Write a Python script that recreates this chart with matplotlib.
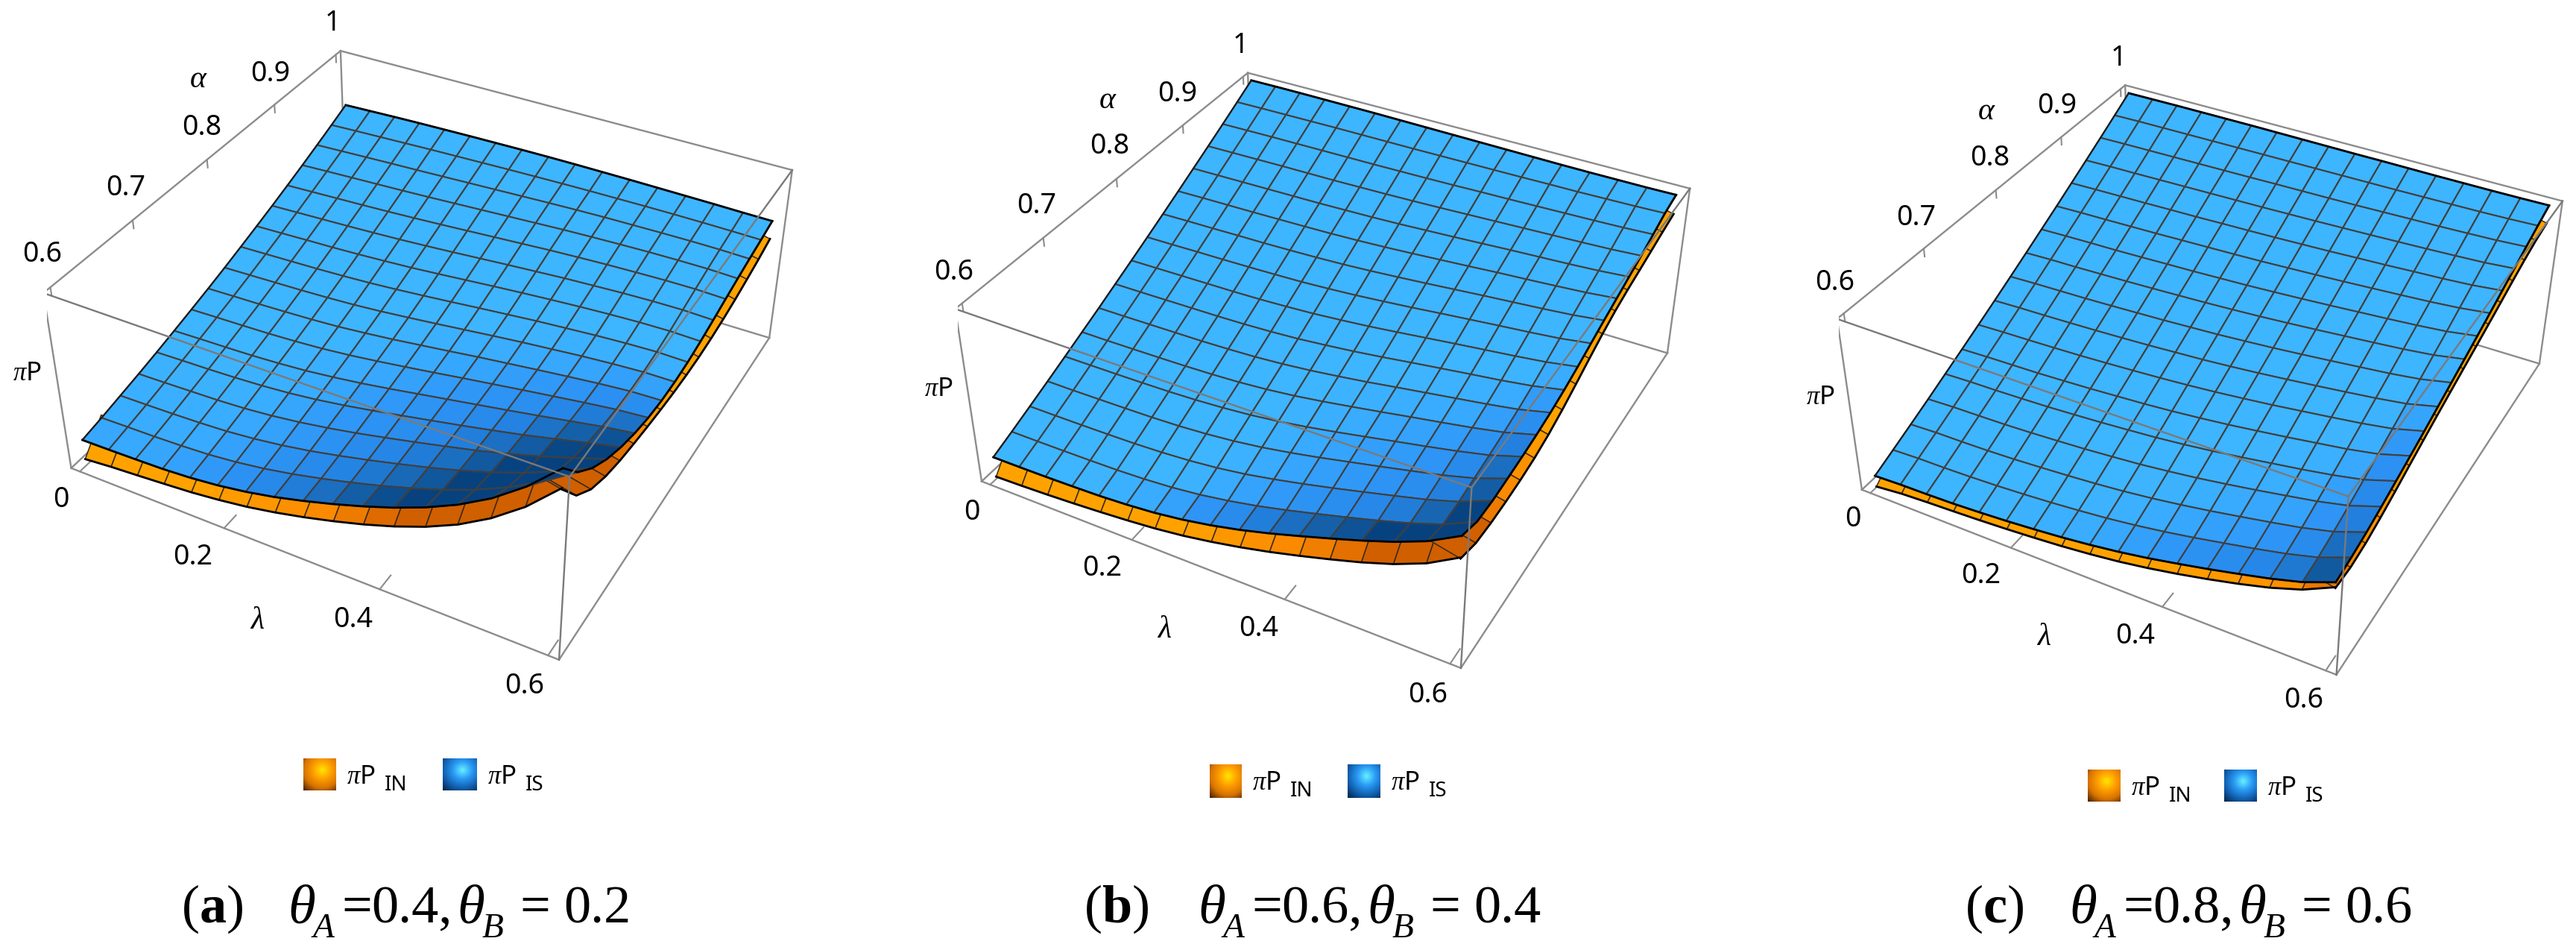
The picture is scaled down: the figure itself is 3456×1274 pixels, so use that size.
import numpy as np
import matplotlib
matplotlib.use('Agg')
import matplotlib.pyplot as plt
from matplotlib.colors import LinearSegmentedColormap

W, H = 3456, 1274

# Mesh positions and axis ranges
lam = [0, 0.0375, 0.075, 0.1125, 0.15, 0.1875, 0.225, 0.2625, 0.3, 0.3375, 0.375, 0.4125, 0.45, 0.4875, 0.525, 0.5625, 0.6]
alp = [0.6, 0.625, 0.65, 0.675, 0.7, 0.725, 0.75, 0.775, 0.8, 0.825, 0.85, 0.875, 0.9, 0.925, 0.95, 0.975, 1.0]
LAM = (-0.0125, 0.6125)
ALP = (0.592, 1.008)
lam_ticks = [0, 0.2, 0.4, 0.6]
alp_ticks = [0.6, 0.7, 0.8, 0.9, 1.0]

# Heights of the blue surface, in thousandths of the box height (rows: alpha, columns: lambda)
pi_is_a = [
    [155, 158, 162, 167, 178, 196, 222, 256, 298, 345, 397, 455, 522, 602, 701, 827, 985],
    [178, 182, 185, 191, 200, 217, 241, 272, 309, 350, 395, 445, 500, 564, 642, 736, 849],
    [204, 207, 211, 217, 226, 242, 264, 292, 326, 363, 403, 445, 491, 544, 604, 675, 755],
    [230, 234, 239, 244, 253, 268, 289, 315, 345, 379, 414, 451, 489, 532, 579, 633, 688],
    [258, 263, 267, 273, 282, 295, 314, 338, 366, 396, 427, 458, 491, 525, 563, 602, 639],
    [288, 293, 297, 302, 311, 323, 341, 362, 387, 414, 441, 468, 495, 523, 552, 581, 604],
    [319, 324, 328, 333, 341, 352, 368, 388, 410, 433, 457, 480, 503, 525, 547, 567, 580],
    [351, 356, 360, 366, 373, 383, 398, 415, 435, 455, 476, 495, 514, 532, 549, 563, 568],
    [385, 390, 395, 400, 407, 416, 429, 445, 462, 480, 498, 515, 530, 545, 557, 566, 567],
    [421, 426, 431, 436, 443, 452, 464, 478, 493, 509, 524, 539, 551, 563, 572, 578, 575],
    [458, 463, 469, 474, 481, 490, 500, 513, 527, 541, 554, 566, 577, 586, 593, 596, 592],
    [496, 502, 508, 514, 521, 529, 539, 550, 562, 574, 585, 596, 604, 612, 617, 619, 614],
    [536, 542, 548, 554, 561, 569, 578, 588, 598, 608, 618, 626, 633, 638, 642, 643, 638],
    [577, 584, 590, 596, 602, 609, 617, 625, 633, 641, 649, 655, 660, 664, 666, 666, 661],
    [620, 626, 632, 638, 643, 649, 655, 661, 667, 673, 678, 682, 684, 686, 687, 686, 682],
    [664, 670, 675, 680, 685, 689, 693, 697, 700, 703, 705, 706, 707, 707, 706, 704, 701],
    [710, 715, 720, 724, 727, 730, 732, 734, 735, 735, 734, 733, 731, 729, 727, 724, 722],
]
pi_is_b = [
    [133, 134, 136, 140, 145, 155, 170, 193, 224, 262, 307, 357, 409, 463, 522, 592, 687],
    [179, 179, 180, 182, 185, 192, 204, 223, 250, 283, 322, 365, 409, 455, 505, 563, 644],
    [227, 227, 228, 230, 233, 240, 251, 268, 292, 323, 358, 396, 436, 477, 519, 570, 639],
    [276, 276, 278, 280, 283, 289, 300, 316, 338, 366, 398, 433, 468, 504, 541, 585, 645],
    [326, 327, 328, 330, 333, 339, 349, 363, 383, 408, 437, 468, 500, 531, 564, 601, 653],
    [377, 377, 379, 381, 384, 389, 397, 410, 428, 451, 477, 504, 532, 559, 587, 619, 664],
    [428, 429, 431, 433, 435, 440, 447, 459, 475, 495, 517, 542, 566, 590, 614, 641, 680],
    [481, 482, 484, 486, 488, 492, 499, 509, 524, 541, 561, 583, 604, 625, 645, 669, 702],
    [534, 536, 538, 540, 542, 546, 553, 562, 575, 590, 608, 627, 646, 664, 682, 702, 730],
    [588, 590, 593, 595, 598, 602, 607, 616, 627, 641, 656, 673, 689, 705, 720, 737, 762],
    [643, 646, 648, 651, 653, 657, 662, 669, 679, 691, 704, 718, 732, 745, 758, 773, 794],
    [699, 702, 704, 706, 709, 712, 716, 722, 730, 740, 751, 762, 774, 784, 795, 807, 824],
    [756, 758, 760, 762, 764, 766, 770, 774, 780, 788, 796, 805, 814, 822, 830, 840, 854],
    [813, 815, 817, 819, 820, 821, 824, 827, 831, 836, 842, 848, 854, 860, 866, 873, 884],
    [871, 873, 875, 876, 877, 878, 879, 881, 883, 886, 890, 893, 897, 901, 905, 910, 918],
    [930, 932, 933, 934, 935, 935, 935, 935, 936, 937, 938, 939, 941, 942, 945, 948, 953],
    [990, 991, 991, 990, 989, 988, 986, 984, 982, 980, 978, 976, 974, 973, 973, 973, 975],
]
pi_is_c = [
    [71, 78, 81, 86, 95, 106, 120, 136, 156, 180, 209, 243, 279, 318, 359, 407, 475],
    [121, 128, 130, 135, 142, 152, 164, 179, 196, 218, 244, 274, 307, 341, 378, 423, 490],
    [172, 179, 181, 185, 192, 202, 213, 226, 242, 262, 286, 313, 343, 374, 407, 449, 511],
    [224, 231, 234, 238, 245, 254, 264, 277, 291, 310, 331, 356, 383, 412, 442, 480, 538],
    [278, 284, 287, 292, 298, 307, 317, 329, 342, 359, 379, 402, 427, 452, 480, 514, 568],
    [332, 338, 342, 346, 353, 361, 371, 381, 394, 410, 428, 449, 471, 495, 519, 550, 599],
    [387, 393, 397, 402, 408, 416, 425, 435, 447, 461, 478, 496, 517, 538, 560, 587, 631],
    [443, 449, 453, 458, 464, 471, 479, 489, 499, 512, 527, 544, 562, 581, 601, 625, 665],
    [500, 506, 510, 514, 520, 527, 534, 543, 552, 564, 577, 592, 608, 625, 642, 664, 699],
    [558, 564, 567, 572, 577, 583, 590, 597, 606, 616, 628, 641, 655, 669, 684, 703, 733],
    [617, 622, 626, 629, 634, 640, 645, 652, 659, 668, 678, 689, 701, 713, 726, 742, 768],
    [676, 681, 684, 688, 692, 697, 702, 707, 713, 721, 729, 738, 748, 758, 769, 783, 804],
    [737, 741, 744, 747, 751, 754, 759, 763, 768, 774, 780, 788, 795, 804, 812, 823, 841],
    [798, 802, 804, 807, 810, 813, 816, 819, 823, 827, 832, 837, 843, 849, 856, 864, 878],
    [860, 863, 865, 867, 869, 871, 873, 876, 878, 880, 883, 887, 891, 895, 900, 906, 916],
    [923, 926, 927, 928, 929, 930, 931, 932, 933, 934, 935, 936, 938, 940, 942, 946, 952],
    [987, 988, 989, 989, 989, 989, 988, 987, 986, 985, 985, 984, 983, 983, 983, 984, 986],
]

# Orange surface: only its front edge (alpha = 0.6) and right edge (lambda = 0.6) show
pi_in_front_a = [39, 54, 65, 77, 90, 109, 133, 165, 203, 246, 294, 349, 414, 493, 594, 721, 883]
pi_in_right_a = [877, 726, 641, 594, 565, 546, 530, 517, 507, 502, 502, 509, 522, 540, 563, 588, 618]
pi_in_front_b = [13, 18, 25, 34, 45, 58, 74, 96, 125, 159, 198, 242, 289, 339, 397, 469, 569]
pi_in_right_b = [563, 525, 516, 516, 521, 533, 556, 590, 632, 676, 718, 753, 779, 800, 822, 845, 865]
pi_in_front_c = [4, 21, 30, 37, 45, 55, 67, 81, 99, 121, 149, 182, 219, 260, 306, 364, 447]
pi_in_right_c = [442, 434, 448, 475, 508, 544, 579, 613, 645, 677, 708, 740, 773, 807, 839, 866, 883]

# Per panel layout: camera (elev, azim, roll, focal, box x, box z, centre x, centre y, size in px)
panels = [
    dict(is_=pi_is_a, front=pi_in_front_a, right=pi_in_right_a,
         cam=[36.454, -61.522, 0.021, 0.442, 1.003, 0.401, 571.381, 439.192, 1017.543],
         ticks=[('1', 446, 30.6), ('0.9', 363, 98.9), ('0.8', 271, 171), ('0.7', 169, 252), ('0.6', 57, 341),
                ('0', 82, 670), ('0.2', 259, 747.4), ('0.4', 474, 831), ('0.6', 704, 920)],
         alpha_at=(266, 105), lambda_at=(345, 831), pi_at=(36, 501),
         legend=(407, 450, 594, 640, 1017, 1060),
         cap=('a', 243, 386, '0.4', '0.2')),
    dict(is_=pi_is_b, front=pi_in_front_b, right=pi_in_right_b,
         cam=[36.019, -61.745, -0.155, 0.442, 0.995, 0.397, 1785.431, 459.825, 1000.141],
         ticks=[('1', 1664, 60.6), ('0.9', 1580, 125.6), ('0.8', 1489, 196.4), ('0.7', 1391, 276), ('0.6', 1280, 365),
                ('0', 1304, 687), ('0.2', 1479, 762), ('0.4', 1689, 843), ('0.6', 1916, 932)],
         alpha_at=(1486, 132.7), lambda_at=(1562, 843), pi_at=(1259, 522),
         legend=(1623, 1665, 1808, 1852, 1025, 1070),
         cap=('b', 1454, 1607, '0.6', '0.4')),
    dict(is_=pi_is_c, front=pi_in_front_c, right=pi_in_right_c,
         cam=[36.066, -62.158, -0.526, 0.446, 0.993, 0.397, 2961.82, 473.558, 989.207],
         ticks=[('1', 2842, 78), ('0.9', 2760, 141.6), ('0.8', 2670, 212), ('0.7', 2571, 292), ('0.6', 2462, 379.5),
                ('0', 2486, 696), ('0.2', 2658, 772), ('0.4', 2865, 853), ('0.6', 3091, 939)],
         alpha_at=(2665, 148), lambda_at=(2742, 853), pi_at=(2442, 532.5),
         legend=(2801, 2844, 2984, 3028, 1032, 1075),
         cap=('c', 2636, 2776, '0.8', '0.6')),
]

plt.rcParams['mathtext.fontset'] = 'custom'
plt.rcParams['mathtext.rm'] = 'Noto Sans'
plt.rcParams['mathtext.it'] = 'Liberation Serif:italic'
plt.rcParams['mathtext.sf'] = 'Liberation Serif'
plt.rcParams['mathtext.bf'] = 'Liberation Serif:bold'

blue_lut = LinearSegmentedColormap.from_list('b', [(0, '#07427f'), (0.25, '#1560a8'), (0.5, '#2585e6'),
                                                   (0.7, '#2f97f7'), (0.85, '#38aaff'), (1, '#3eb5ff')])
orange_lut = LinearSegmentedColormap.from_list('o', [(0, '#a84600'), (0.3, '#d86400'), (0.6, '#fb8a00'), (1, '#ffa200')])
sw_orange = LinearSegmentedColormap.from_list('so', ['#ffe600', '#ff9f00', '#d87400', '#4a2200'])
sw_blue = LinearSegmentedColormap.from_list('sb', ['#66f0ff', '#2a9af5', '#1260b0', '#002448'])

fig = plt.figure(figsize=(W / 100, H / 100), dpi=100)


def shade(Z, el, az, bx, bz):
    """Brightness of each mesh cell: how much it faces the viewer, lighter towards the far side."""
    du = np.diff(lam)[0] / (LAM[1] - LAM[0]) * bx
    dv = np.diff(alp)[0] / (ALP[1] - ALP[0])
    wu = np.diff(Z, axis=1)[:-1, :] * bz / du
    wv = np.diff(Z, axis=0)[:, :-1] * bz / dv
    n = np.stack([-wu, -wv, np.ones_like(wu)], -1)
    n /= np.linalg.norm(n, axis=-1, keepdims=True)
    e, a = np.radians(el), np.radians(az)
    v = np.array([np.cos(e) * np.cos(a), np.cos(e) * np.sin(a), np.sin(e)])
    far = np.linspace(0, 1, Z.shape[0] - 1)[:, None]
    return np.clip((n @ v - 0.37 + 0.15 * far) / 0.38, 0, 1)


def swatch(x0, x1, y0, y1, cmap):
    a = fig.add_axes([x0 / W, 1 - y1 / H, (x1 - x0) / W, (y1 - y0) / H])
    gy, gx = np.mgrid[0:1:64j, 0:1:64j]
    a.imshow(np.hypot(gx - 0.58, gy - 0.36), cmap=cmap, vmin=0, vmax=0.85, aspect='auto')
    a.axis('off')


def label(txt, x, y, size, **kw):
    fig.text(x / W, 1 - y / H, txt, fontsize=size, ha=kw.pop('ha', 'center'), va=kw.pop('va', 'center'), **kw)


for panel in panels:
    el, az, ro, f, bx, bz, cx, cy, s = panel['cam']
    ax = fig.add_axes([(cx - s / 2) / W, 1 - (cy + s / 2) / H, s / W, s / H], projection='3d', computed_zorder=False)
    ax.view_init(el, az, ro)
    ax.set_proj_type('persp', focal_length=f)
    ax.set_box_aspect((bx, 1, bz))
    ax.set_xlim(*LAM)
    ax.set_ylim(*ALP)
    ax.set_zlim(0, 1)
    ax.set_axis_off()
    ax.patch.set_alpha(0)

    Z = np.array(panel['is_']) / 1000
    in_front = np.array(panel['front']) / 1000
    in_right = np.array(panel['right']) / 1000
    L, A = np.meshgrid(lam, alp)
    S = shade(Z, el, az, bx, bz)
    lo, hi = LAM
    al, ah = ALP

    # box edges behind the surfaces
    gray = '#8c8c8c'
    ax.plot([lo, lo], [al, ah], [1, 1], color=gray, lw=1.7, zorder=0.5)
    ax.plot([lo, hi], [ah, ah], [1, 1], color=gray, lw=1.7, zorder=0.5)
    ax.plot([lo, lo], [al, al], [1, 0], color=gray, lw=1.7, zorder=0.5)
    ax.plot([hi, hi], [ah, ah], [1, 0], color=gray, lw=1.7, zorder=0.5)
    ax.plot([lo, lo], [ah, ah], [1, 0], color=gray, lw=1.7, zorder=0.5)
    ax.plot([lo, lo], [al, ah], [0, 0], color=gray, lw=1.7, zorder=0.5)
    ax.plot([lo, hi], [ah, ah], [0, 0], color=gray, lw=1.7, zorder=0.5)
    ax.plot([lo, hi], [al, al], [0, 0], color=gray, lw=1.7, zorder=0.5)
    ax.plot([hi, hi], [al, ah], [0, 0], color=gray, lw=1.7, zorder=0.5)
    for a in alp_ticks:
        ax.plot([lo, lo], [a, a], [1, 0.955], color=gray, lw=1.5, zorder=0.5)
    for l0 in lam_ticks:
        ax.plot([l0, l0], [al, al + 0.016], [0, 0], color=gray, lw=1.5, zorder=0.5)

    # orange edge strips, their inner side stays hidden under the blue surface
    inner_f = np.maximum(Z[1] - (Z[0] - in_front), Z[0] + 0.04)
    ax.plot_surface(L[:2], A[:2], np.vstack([in_front, inner_f]), facecolors=orange_lut(np.clip(S[:1] + 0.25, 0, 1)),
                    edgecolor='#3a2a1a', linewidth=1.1, shade=False, rstride=1, cstride=1, zorder=1)
    inner_r = np.maximum(Z[:, 15] - (Z[:, 16] - in_right), in_right + 0.04)
    ax.plot_surface(L[:, 15:], A[:, 15:], np.column_stack([inner_r, in_right]), facecolors=orange_lut(np.clip(S[:, 15:] + 0.25, 0, 1)),
                    edgecolor='#3a2a1a', linewidth=1.1, shade=False, rstride=1, cstride=1, zorder=1.1)
    ax.plot(lam, [alp[0]] * 17, in_front, color='k', lw=2, zorder=1.2)
    ax.plot([lam[16]] * 17, alp, in_right, color='k', lw=2, zorder=1.2)

    ax.plot_surface(L, A, Z, facecolors=blue_lut(S), edgecolor='#404040', linewidth=1.5, shade=False,
                    rstride=1, cstride=1, zorder=2)
    ax.plot(lam, [alp[0]] * 17, Z[0], color='k', lw=2, zorder=3)
    ax.plot(lam, [alp[16]] * 17, Z[16], color='k', lw=2, zorder=3)
    ax.plot([lam[0]] * 17, alp, Z[:, 0], color='#1a1a1a', lw=1.5, zorder=3)
    ax.plot([lam[16]] * 17, alp, Z[:, 16], color='k', lw=2, zorder=3)

    # box edges in front of the surfaces
    ax.plot([lo, hi], [al, al], [1, 1], color='#7a7a7a', lw=1.7, zorder=4)
    ax.plot([hi, hi], [al, ah], [1, 1], color='#7a7a7a', lw=1.7, zorder=4)
    ax.plot([hi, hi], [al, al], [1, 0], color='#7a7a7a', lw=1.7, zorder=4)

    for t, x, y in panel['ticks']:
        label(t, x, y, 27, family='Noto Sans')
    label(r'$\alpha$', *panel['alpha_at'], 30)
    label(r'$\lambda$', *panel['lambda_at'], 30)
    label(r'$\pi$P', *panel['pi_at'], 25, family='Noto Sans')

    # legend
    s0, s1, s2, s3, y0, y1 = panel['legend']
    swatch(s0, s1, y0, y1, sw_orange)
    swatch(s2, s3, y0, y1, sw_blue)
    base = y0 + 34
    label(r'$\pi$P', s1 + 15, base, 25, family='Noto Sans', ha='left', va='baseline')
    label('IN', s1 + 66, base + 9, 20, family='Noto Sans', ha='left', va='baseline')
    label(r'$\pi$P', s3 + 14, base, 25, family='Noto Sans', ha='left', va='baseline')
    label('IS', s3 + 65, base + 9, 20, family='Noto Sans', ha='left', va='baseline')

    # caption
    let, xc, xt, v1, v2 = panel['cap']
    serif = dict(ha='left', va='baseline', family='Liberation Serif')
    label(r'$\mathsf{(}\mathbf{%s}\mathsf{)}$' % let, xc, 1237, 52, ha='left', va='baseline')
    label(r'$\theta$', xt, 1237, 54, ha='left', va='baseline')
    label(r'$A$', xt + 31, 1257, 34, ha='left', va='baseline')
    label('=', xt + 72, 1237, 52, **serif)
    label(v1 + ',', xt + 112, 1237, 52, **serif)
    label(r'$\theta$', xt + 227, 1237, 54, ha='left', va='baseline')
    label(r'$B$', xt + 260, 1257, 34, ha='left', va='baseline')
    label('=', xt + 311, 1237, 52, **serif)
    label(v2, xt + 370, 1237, 52, **serif)

fig.savefig('out.png', dpi=100)
